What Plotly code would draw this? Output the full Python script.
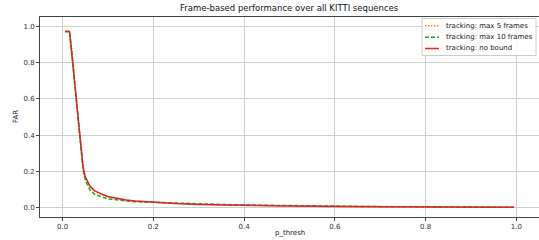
import plotly.graph_objects as go

p_thresh = [0.005, 0.015, 0.02, 0.025, 0.03, 0.035, 0.04, 0.045, 0.05, 0.06, 0.07, 0.08, 0.09, 0.10,
            0.12, 0.14, 0.16, 0.18, 0.20, 0.25, 0.30, 0.35, 0.40, 0.50, 0.60, 0.70, 0.80, 0.90, 0.995]

far_max5 = [0.97, 0.97, 0.87, 0.75, 0.60, 0.46, 0.33, 0.23, 0.165, 0.115, 0.09, 0.077, 0.068, 0.060,
            0.050, 0.043, 0.037, 0.033, 0.030, 0.024, 0.020, 0.017, 0.014, 0.011, 0.008, 0.007, 0.005, 0.004, 0.003]

far_max10 = [0.97, 0.97, 0.86, 0.73, 0.58, 0.44, 0.31, 0.21, 0.15, 0.10, 0.075, 0.065, 0.057, 0.050,
             0.043, 0.038, 0.034, 0.032, 0.030, 0.026, 0.022, 0.019, 0.016, 0.012, 0.009, 0.007, 0.006, 0.004, 0.003]

far_nobound = [0.97, 0.97, 0.85, 0.72, 0.57, 0.44, 0.32, 0.22, 0.17, 0.12, 0.095, 0.082, 0.072, 0.063,
               0.052, 0.044, 0.038, 0.034, 0.030, 0.024, 0.019, 0.016, 0.013, 0.010, 0.008, 0.006, 0.005, 0.004, 0.003]

series_names = ["tracking: max 5 frames", "tracking: max 10 frames", "tracking: no bound"]
series_colors = ["#ff7f0e", "#2ca02c", "#d62728"]
series_dashes = ["1.3px,1.7px", "4px,2px", "solid"]

x_ticks = [0.0, 0.2, 0.4, 0.6, 0.8, 1.0]
y_ticks = [0.0, 0.2, 0.4, 0.6, 0.8, 1.0]

W, H = 539, 240
ML, MR, MT, MB = 40, 0, 17, 23
PW, PH = W - ML - MR, H - MT - MB

fig = go.Figure()
for ys, name, col, dash in zip([far_max5, far_max10, far_nobound], series_names, series_colors, series_dashes):
    fig.add_trace(go.Scatter(x=p_thresh, y=ys, mode="lines", name=name,
                             line=dict(color=col, width=1.5, dash=dash)))

axis_common = dict(showgrid=True, gridcolor="#cfcfcf", gridwidth=1, zeroline=False,
                   showline=True, linecolor="#444444", linewidth=1,
                   ticks="outside", ticklen=3, tickcolor="#444444",
                   tickfont=dict(family="DejaVu Sans", size=7, color="#333333"))

# compact matplotlib-like legend, positioned in paper coords
def px_x(p):
    return (p - ML) / PW

def px_y(p):
    return 1 - (p - MT) / PH

shapes = [dict(type="rect", xref="paper", yref="paper",
               x0=px_x(422), x1=px_x(536), y0=px_y(55.5), y1=px_y(18.5),
               line=dict(color="#cccccc", width=1), fillcolor="rgba(255,255,255,0.85)", layer="above")]
annotations = []
row_y = [25.7, 37.2, 48.5]
for ry, name, col, dash in zip(row_y, series_names, series_colors, series_dashes):
    shapes.append(dict(type="line", xref="paper", yref="paper",
                       x0=px_x(425), x1=px_x(439), y0=px_y(ry), y1=px_y(ry),
                       line=dict(color=col, width=1.5, dash=dash), layer="above"))
    annotations.append(dict(text=name, xref="paper", yref="paper", x=px_x(443.5), y=px_y(ry),
                            xanchor="left", yanchor="middle", showarrow=False,
                            font=dict(family="DejaVu Sans", size=7, color="#222222")))

annotations += [
    dict(text="Frame-based performance over all KITTI sequences", xref="paper", yref="paper",
         x=0.5, y=1, yshift=9, xanchor="center", yanchor="middle", showarrow=False,
         font=dict(family="DejaVu Sans", size=8.5, color="#111111")),
    dict(text="p_thresh", xref="paper", yref="paper", x=0.5, y=0, yshift=-16,
         xanchor="center", yanchor="middle", showarrow=False,
         font=dict(family="DejaVu Sans", size=7, color="#222222")),
    dict(text="FAR", xref="paper", yref="paper", x=0, y=0.5, xshift=-24, textangle=-90,
         xanchor="center", yanchor="middle", showarrow=False,
         font=dict(family="DejaVu Sans", size=7, color="#222222")),
]

fig.update_layout(
    width=W, height=H,
    margin=dict(l=ML, r=MR, t=MT, b=MB, pad=0),
    paper_bgcolor="white", plot_bgcolor="white",
    showlegend=False,
    hovermode=False,
    xaxis=dict(range=[-0.05, 1.05], tickvals=x_ticks, ticktext=[f"{v:.1f}" for v in x_ticks],
               mirror=True, **axis_common),
    yaxis=dict(range=[-0.05, 1.05], tickvals=y_ticks, ticktext=[f"{v:.1f}" for v in y_ticks],
               **axis_common),
    shapes=shapes,
    annotations=annotations,
)

fig.write_html("out.html", config={"displayModeBar": False, "staticPlot": True},
               post_script="document.body.style.margin='0';document.body.style.overflow='hidden';")
